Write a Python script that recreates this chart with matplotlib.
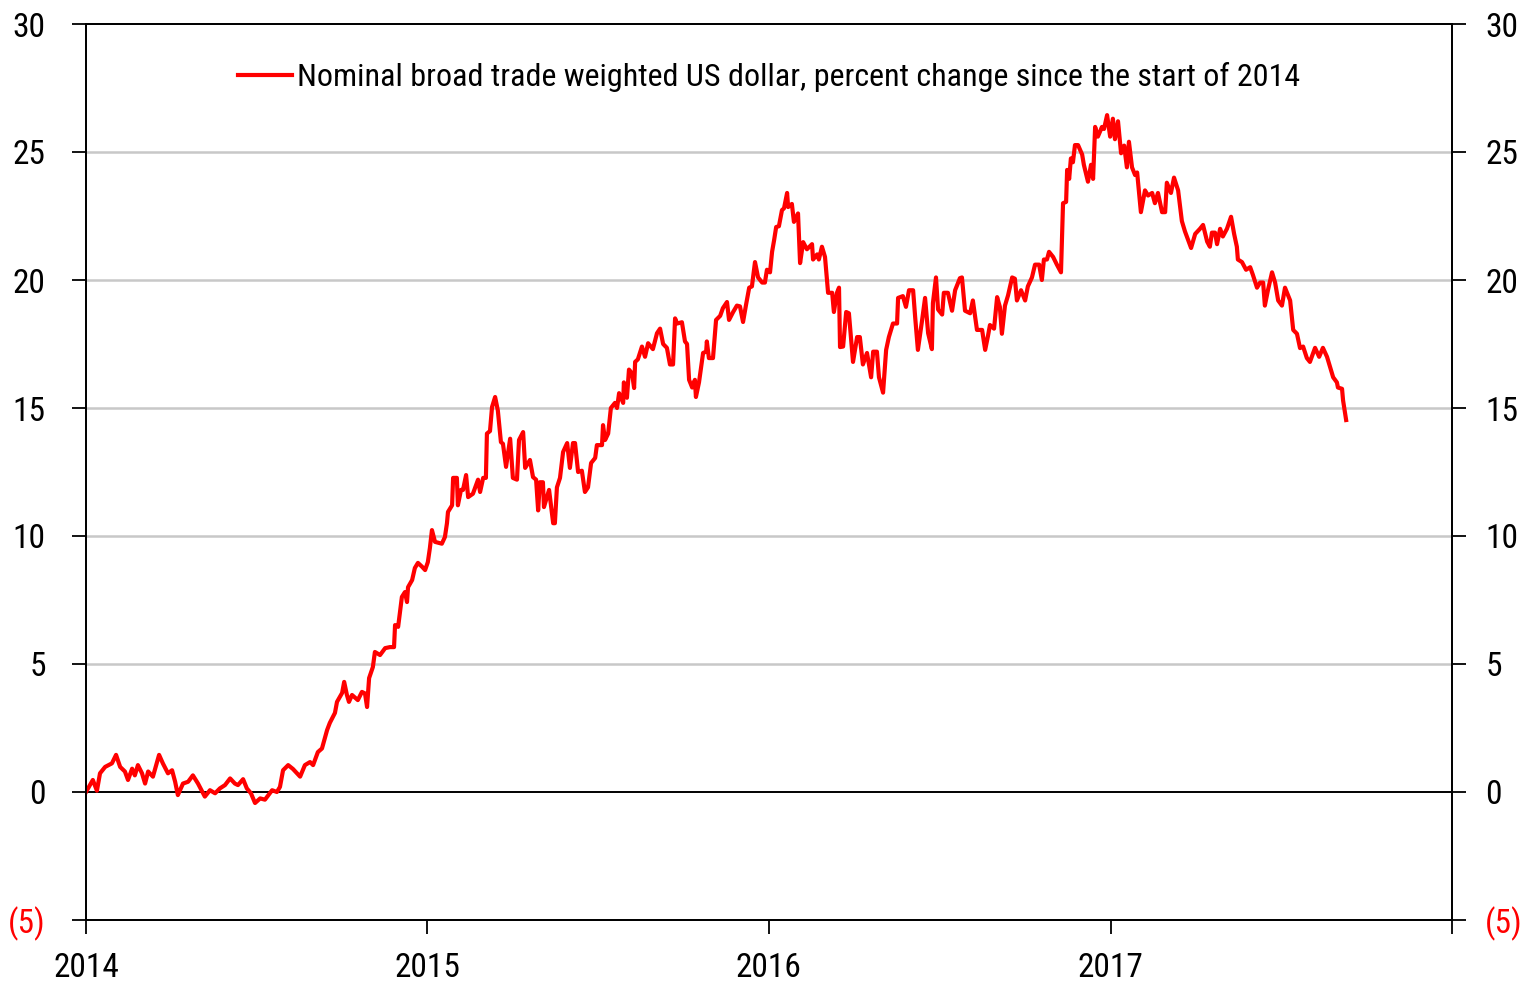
import datetime as dt
import matplotlib
matplotlib.use("Agg")
import matplotlib.pyplot as plt
import matplotlib.dates as mdates
from matplotlib import font_manager
from matplotlib.ticker import FixedLocator, FuncFormatter

# time in fractional years after 2014-01-01, value = % change since start of 2014
year_frac = [
    0.000, 0.020, 0.032, 0.041, 0.056, 0.076, 0.088, 0.100, 0.114, 0.123,
    0.135, 0.143, 0.152, 0.164, 0.173, 0.182, 0.196, 0.214, 0.225, 0.240,
    0.252, 0.261, 0.269, 0.284, 0.299, 0.313, 0.328, 0.348, 0.363, 0.378,
    0.392, 0.407, 0.422, 0.436, 0.445, 0.460, 0.471, 0.483, 0.495, 0.510,
    0.524, 0.545, 0.559, 0.568, 0.577, 0.592, 0.606, 0.627, 0.641, 0.656,
    0.665, 0.679, 0.691, 0.706, 0.714, 0.729, 0.735, 0.750, 0.756, 0.764,
    0.770, 0.779, 0.796, 0.808, 0.817, 0.823, 0.829, 0.840, 0.846, 0.861,
    0.876, 0.890, 0.902, 0.905, 0.914, 0.919, 0.925, 0.934, 0.940, 0.943,
    0.955, 0.963, 0.972, 0.984, 0.993, 1.001, 1.007, 1.013, 1.022, 1.042,
    1.051, 1.057, 1.060, 1.072, 1.075, 1.086, 1.089, 1.098, 1.104, 1.113,
    1.119, 1.133, 1.148, 1.154, 1.163, 1.171, 1.174, 1.183, 1.189, 1.198,
    1.206, 1.215, 1.221, 1.230, 1.242, 1.250, 1.262, 1.268, 1.280, 1.286,
    1.300, 1.309, 1.318, 1.324, 1.329, 1.338, 1.341, 1.356, 1.368, 1.373,
    1.379, 1.388, 1.397, 1.409, 1.417, 1.426, 1.432, 1.441, 1.452, 1.461,
    1.470, 1.479, 1.491, 1.496, 1.511, 1.514, 1.520, 1.529, 1.537, 1.549,
    1.555, 1.561, 1.573, 1.575, 1.584, 1.590, 1.599, 1.605, 1.608, 1.616,
    1.628, 1.637, 1.646, 1.660, 1.672, 1.681, 1.690, 1.701, 1.710, 1.719,
    1.725, 1.731, 1.745, 1.754, 1.760, 1.766, 1.775, 1.783, 1.786, 1.795,
    1.807, 1.816, 1.818, 1.824, 1.836, 1.845, 1.857, 1.865, 1.877, 1.883,
    1.895, 1.906, 1.915, 1.924, 1.933, 1.942, 1.950, 1.959, 1.968, 1.980,
    1.988, 1.994, 2.003, 2.009, 2.015, 2.021, 2.029, 2.038, 2.044, 2.053,
    2.056, 2.067, 2.073, 2.085, 2.091, 2.100, 2.111, 2.126, 2.129, 2.141,
    2.146, 2.155, 2.164, 2.173, 2.185, 2.190, 2.199, 2.205, 2.208, 2.217,
    2.226, 2.234, 2.246, 2.258, 2.266, 2.275, 2.287, 2.299, 2.305, 2.316,
    2.322, 2.334, 2.343, 2.351, 2.363, 2.375, 2.378, 2.392, 2.401, 2.410,
    2.422, 2.428, 2.436, 2.448, 2.457, 2.466, 2.477, 2.480, 2.489, 2.495,
    2.507, 2.512, 2.524, 2.536, 2.545, 2.559, 2.565, 2.574, 2.589, 2.597,
    2.609, 2.624, 2.633, 2.641, 2.647, 2.659, 2.668, 2.676, 2.682, 2.691,
    2.700, 2.712, 2.720, 2.726, 2.738, 2.750, 2.758, 2.770, 2.779, 2.791,
    2.799, 2.805, 2.814, 2.820, 2.832, 2.843, 2.855, 2.861, 2.870, 2.873,
    2.879, 2.884, 2.890, 2.896, 2.905, 2.917, 2.922, 2.934, 2.943, 2.949,
    2.955, 2.963, 2.975, 2.981, 2.990, 2.999, 3.007, 3.013, 3.022, 3.031,
    3.040, 3.048, 3.054, 3.063, 3.072, 3.078, 3.089, 3.101, 3.110, 3.122,
    3.130, 3.139, 3.151, 3.160, 3.165, 3.177, 3.186, 3.198, 3.209, 3.218,
    3.236, 3.248, 3.262, 3.271, 3.283, 3.291, 3.297, 3.306, 3.312, 3.321,
    3.329, 3.341, 3.353, 3.362, 3.370, 3.373, 3.385, 3.397, 3.409, 3.417,
    3.429, 3.438, 3.447, 3.452, 3.461, 3.473, 3.482, 3.491, 3.502, 3.511,
    3.526, 3.535, 3.546, 3.555, 3.564, 3.575, 3.584, 3.599, 3.611, 3.622,
    3.634, 3.643, 3.652, 3.663, 3.666, 3.678, 3.681, 3.690,
]
pct_change = [
    0.00, 0.47, 0.05, 0.73, 0.98, 1.12, 1.45, 0.98, 0.80, 0.47,
    0.91, 0.65, 1.05, 0.73, 0.33, 0.80, 0.60, 1.45, 1.12, 0.73,
    0.85, 0.40, -0.12, 0.33, 0.40, 0.65, 0.33, -0.18, 0.07, -0.05,
    0.14, 0.27, 0.53, 0.33, 0.27, 0.50, 0.14, -0.05, -0.43, -0.25,
    -0.30, 0.07, 0.00, 0.20, 0.85, 1.05, 0.90, 0.60, 1.05, 1.17,
    1.05, 1.56, 1.70, 2.42, 2.70, 3.09, 3.52, 3.87, 4.30, 3.79,
    3.52, 3.79, 3.59, 3.91, 3.85, 3.32, 4.45, 4.88, 5.47, 5.35,
    5.62, 5.66, 5.66, 6.52, 6.45, 6.99, 7.62, 7.81, 7.42, 8.00,
    8.28, 8.75, 8.95, 8.80, 8.67, 8.98, 9.53, 10.23, 9.77, 9.70,
    9.96, 10.50, 10.94, 11.20, 12.27, 12.27, 11.20, 11.80, 11.80, 12.38,
    11.52, 11.65, 12.20, 11.72, 12.27, 12.27, 14.00, 14.10, 15.04, 15.43,
    14.90, 13.67, 13.60, 12.70, 13.80, 12.27, 12.20, 13.75, 14.06, 12.66,
    12.97, 12.30, 12.20, 11.00, 12.10, 12.10, 11.13, 11.80, 10.50, 10.50,
    11.90, 12.27, 13.28, 13.63, 12.66, 13.63, 13.63, 12.50, 12.55, 11.72,
    11.90, 12.85, 13.05, 13.55, 13.55, 14.33, 13.75, 14.00, 15.00, 15.20,
    15.00, 15.58, 15.20, 16.00, 15.40, 16.50, 16.35, 15.78, 16.80, 16.90,
    17.40, 17.00, 17.53, 17.30, 17.92, 18.10, 17.50, 17.35, 16.70, 16.70,
    18.50, 18.30, 18.35, 17.60, 17.50, 16.10, 15.80, 16.10, 15.43, 16.00,
    17.15, 17.20, 17.60, 16.95, 16.95, 18.44, 18.60, 18.90, 19.14, 18.44,
    18.75, 19.00, 18.97, 18.36, 19.05, 19.70, 19.75, 20.70, 20.10, 19.90,
    19.90, 20.40, 20.30, 21.10, 21.56, 22.07, 22.10, 22.73, 22.80, 23.40,
    22.85, 22.97, 22.27, 22.60, 20.66, 21.48, 21.20, 21.40, 20.80, 21.00,
    20.80, 21.30, 20.90, 19.50, 19.50, 18.75, 19.50, 19.70, 17.38, 17.40,
    18.75, 18.70, 16.80, 17.77, 17.77, 16.70, 17.15, 16.20, 17.20, 17.20,
    16.20, 15.60, 17.27, 17.77, 18.30, 18.30, 19.30, 19.37, 18.95, 19.60,
    19.60, 18.55, 17.27, 18.40, 19.30, 17.92, 17.30, 19.10, 20.10, 18.85,
    18.65, 19.50, 19.50, 18.80, 19.60, 20.07, 20.10, 18.80, 18.70, 19.20,
    18.05, 18.05, 17.27, 17.80, 18.24, 18.10, 19.33, 18.95, 17.90, 19.00,
    19.40, 20.10, 20.05, 19.20, 19.60, 19.20, 19.75, 20.10, 20.60, 20.60,
    20.00, 20.80, 20.80, 21.10, 20.90, 20.60, 20.30, 23.00, 23.05, 24.30,
    23.95, 24.75, 24.60, 25.27, 25.27, 24.90, 24.50, 23.84, 24.50, 23.95,
    25.98, 25.60, 25.98, 25.90, 26.44, 25.60, 26.30, 25.50, 26.20, 24.95,
    25.25, 24.40, 25.40, 24.40, 24.10, 24.20, 22.65, 23.50, 23.30, 23.40,
    23.00, 23.40, 22.65, 22.65, 23.80, 23.40, 24.00, 23.50, 22.30, 21.90,
    21.25, 21.80, 22.00, 22.15, 21.50, 21.30, 21.85, 21.85, 21.40, 22.00,
    21.70, 22.00, 22.47, 21.80, 21.30, 20.80, 20.70, 20.40, 20.50, 20.20,
    19.70, 19.90, 19.90, 19.00, 19.60, 20.30, 19.90, 19.20, 19.00, 19.70,
    19.20, 18.05, 17.90, 17.34, 17.40, 16.95, 16.80, 17.35, 17.00, 17.35,
    17.00, 16.60, 16.20, 16.00, 15.80, 15.75, 15.30, 14.53,
]
series_label = "Nominal broad trade weighted US dollar, percent change since the start of 2014"
year_ticks = [2014, 2015, 2016, 2017, 2018]
year_labels = ["2014", "2015", "2016", "2017", ""]
y_ticks = [-5, 0, 5, 10, 15, 20, 25, 30]

# narrow Arial-like face if one is around
installed = {f.name for f in font_manager.fontManager.ttflist}
wanted = ["Liberation Sans Narrow", "Arial Narrow", "Roboto Condensed",
          "PT Sans Narrow", "Archivo Narrow", "Liberation Sans"]
fams = [f for f in wanted if f in installed][:1] + ["DejaVu Sans"]
plt.rcParams['font.family'] = fams
plt.rcParams['font.size'] = 24

start = dt.datetime(2014, 1, 1)
dates = [start + dt.timedelta(days=f * 365.25) for f in year_frac]

fig = plt.figure(figsize=(15.3, 9.85), dpi=100)
ax = fig.add_axes([86 / 1530, 1 - 920 / 985, (1452 - 86) / 1530, (920 - 24) / 985])

for v in [5, 10, 15, 20, 25]:
    ax.axhline(v, color='#c8c8c8', lw=1.8, zorder=1)
ax.axhline(0, color='black', lw=1.4, zorder=2)

ax.plot(dates, pct_change, color='#ff0000', lw=3.0, zorder=3, label=series_label)

ax.set_xlim(dt.datetime(2014, 1, 1), dt.datetime(2018, 1, 1))
ax.set_ylim(-5, 30)
ax.xaxis.set_major_locator(FixedLocator([mdates.date2num(dt.datetime(y, 1, 1)) for y in year_ticks]))
ax.set_xticklabels(year_labels)

fmt = FuncFormatter(lambda v, p: f"({abs(int(v))})" if v < 0 else f"{int(v)}")
ax.set_yticks(y_ticks)
ax.yaxis.set_major_formatter(fmt)

ax2 = ax.twinx()
ax2.set_ylim(-5, 30)
ax2.set_yticks(y_ticks)
ax2.yaxis.set_major_formatter(fmt)

for a in (ax, ax2):
    for s in a.spines.values():
        s.set_linewidth(1.3)
        s.set_color('black')
    a.tick_params(axis='both', direction='out', length=10, width=1.3, labelsize=24)
ax.tick_params(axis='y', pad=19)
ax2.tick_params(axis='y', pad=14)
ax.tick_params(axis='x', pad=13)

for a in (ax, ax2):
    for lbl in a.get_yticklabels():
        if lbl.get_text().startswith('('):
            lbl.set_color('#ff0000')

leg = ax.legend(loc='upper center', bbox_to_anchor=(0.5, 0.99), frameon=False,
                fontsize=23, handlelength=1.7, handletextpad=0.15)

fig.savefig('out.png', dpi=100)
